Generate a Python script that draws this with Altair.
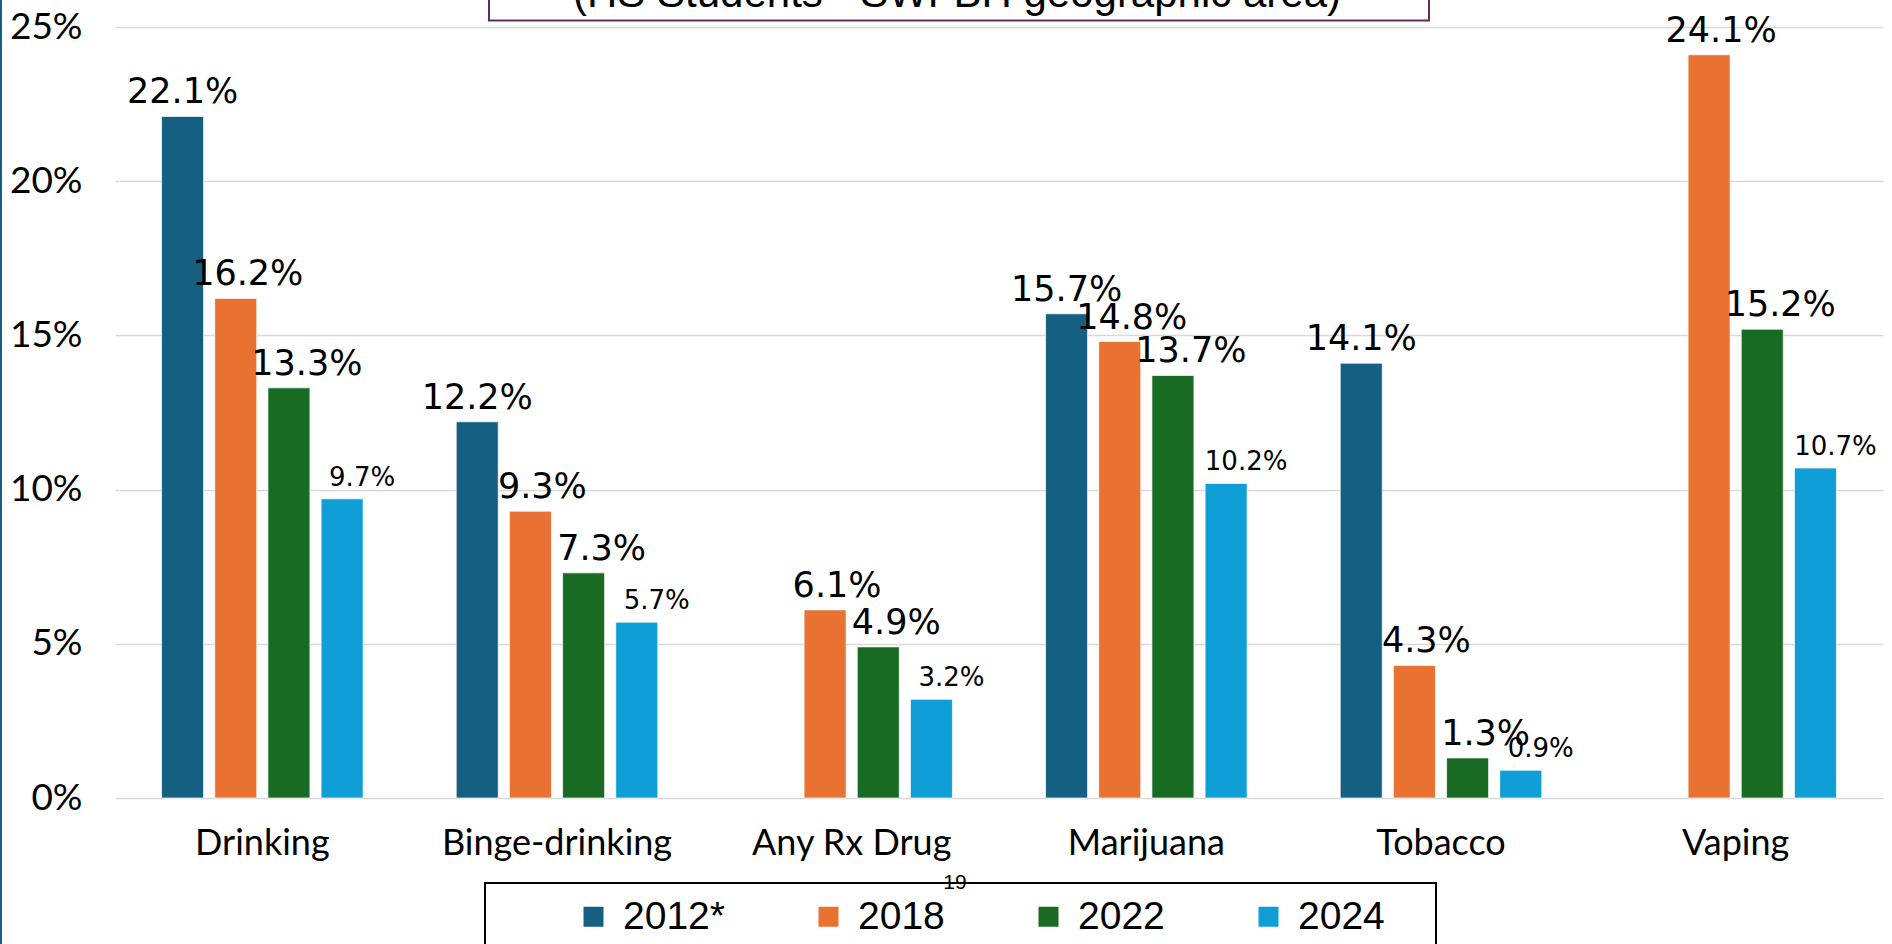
import altair as alt
import pandas as pd

categories = ["Drinking", "Binge-drinking", "Any Rx Drug", "Marijuana", "Tobacco", "Vaping"]
years = ["2012*", "2018", "2022", "2024"]
v2012 = [22.1, 12.2, None, 15.7, 14.1, None]
v2018 = [16.2, 9.3, 6.1, 14.8, 4.3, 24.1]
v2022 = [13.3, 7.3, 4.9, 13.7, 1.3, 15.2]
v2024 = [9.7, 5.7, 3.2, 10.2, 0.9, 10.7]
colors = ["#156082", "#E97132", "#196B24", "#0F9ED5"]
y_ticks = [0, 0.05, 0.10, 0.15, 0.20, 0.25]
subtitle = "(HS Students - SWFBH geographic area)"
page_no = "19"

rows = []
for yr, vals in zip(years, [v2012, v2018, v2022, v2024]):
    for c, v in zip(categories, vals):
        if v is not None:
            rows.append({"category": c, "year": yr, "value": v / 100.0})
df = pd.DataFrame(rows)

W, H = 1768, 771
LEFT, TOP = 115, 27

x_enc = alt.X("category:N", sort=categories,
              scale=alt.Scale(paddingInner=0.316, paddingOuter=0.158),
              axis=alt.Axis(title=None, labelAngle=0, ticks=False, domain=False,
                            labelFont="Lato", labelFontSize=36, labelColor="#000000",
                            labelPadding=28, labelLimit=0, grid=False))
xoff = alt.XOffset("year:N", scale=alt.Scale(domain=years, paddingInner=0.21, paddingOuter=0))
y_enc = alt.Y("value:Q", scale=alt.Scale(domain=[0, 0.25], nice=False),
              axis=alt.Axis(title=None, values=y_ticks, format=".0%", ticks=False,
                            domain=False, grid=True, gridColor="#D9D9D9", gridWidth=1.5,
                            labelFont="Lato", labelFontSize=37, labelColor="#000000",
                            labelPadding=33))

base = alt.Chart(df)

bars = base.mark_bar(stroke="white", strokeWidth=1, strokeOpacity=0.7).encode(
    x=x_enc, xOffset=xoff, y=y_enc,
    color=alt.Color("year:N", scale=alt.Scale(domain=years, range=colors),
                    legend=alt.Legend(title=None, orient="none", direction="horizontal",
                                      legendX=459, legendY=870, columns=4,
                                      symbolType="square", symbolSize=400,
                                      symbolStrokeWidth=0, labelFont="Liberation Sans",
                                      labelFontSize=39, labelColor="#000000",
                                      labelOffset=10, columnPadding=84, padding=0)),
)

label_styles = {"2012*": (0, 35), "2018": (12, 35), "2022": (18, 35), "2024": (20, 26)}
labels = []
for yr in years:
    dx, fs = label_styles[yr]
    labels.append(
        base.transform_filter(alt.datum.year == yr).mark_text(
            font="DejaVu Sans", fontSize=fs, color="#000000", baseline="alphabetic",
            dy=-13, dx=dx
        ).encode(x=x_enc, xOffset=xoff, y=y_enc, text=alt.Text("value:Q", format=".1%"))
    )

deco = pd.DataFrame({"k": [0]})
dbase = alt.Chart(deco)

title_box = dbase.mark_rect(fill="white", stroke="#5E2C5E", strokeWidth=2).encode(
    x=alt.value(374), x2=alt.value(1314), y=alt.value(-80), y2=alt.value(-6.5))
title_text = dbase.mark_text(font="Liberation Sans", fontSize=42, color="#000000",
                             baseline="alphabetic", align="center").encode(
    x=alt.value(842), y=alt.value(-20), text=alt.value(subtitle))
legend_box = dbase.mark_rect(fill="white", stroke="#000000", strokeWidth=2).encode(
    x=alt.value(370), x2=alt.value(1321), y=alt.value(856), y2=alt.value(940))
page_text = dbase.mark_text(font="Liberation Sans", fontSize=21, color="#000000",
                            baseline="alphabetic", align="center").encode(
    x=alt.value(840), y=alt.value(862), text=alt.value(page_no))
edge = dbase.mark_rule(color="#156082", strokeWidth=2).encode(
    x=alt.value(-LEFT + 1), y=alt.value(-TOP), y2=alt.value(944))

chart = alt.layer(legend_box, title_box, title_text, bars, *labels, page_text, edge).properties(
    width=W, height=H,
    autosize=alt.AutoSizeParams(type="none"),
    padding={"left": LEFT, "top": TOP, "right": 1892 - LEFT - W, "bottom": 944 - TOP - H},
    background="white",
).configure_view(stroke=None)

chart.save("out.html", embed_options={"renderer": "svg", "actions": False})
